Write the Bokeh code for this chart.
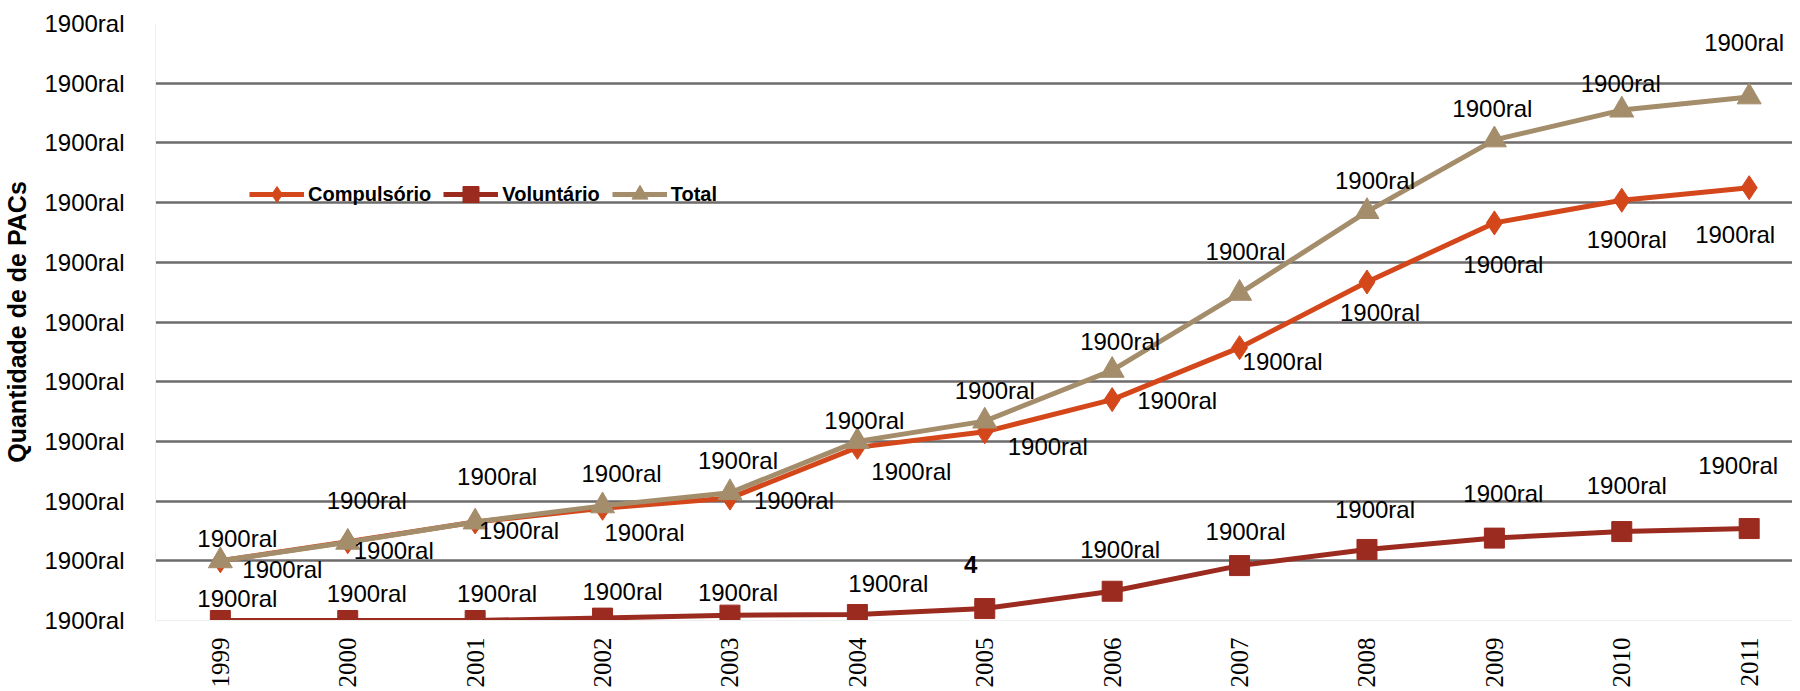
import math
from bokeh.plotting import figure
from bokeh.models import ColumnDataSource, LabelSet, FixedTicker, Legend, LegendItem, Range1d
from bokeh.core.properties import value
from bokeh.embed import file_html
from bokeh.resources import INLINE

# ---------------- data ----------------
years = ["1999", "2000", "2001", "2002", "2003", "2004", "2005",
         "2006", "2007", "2008", "2009", "2010", "2011"]
compulsorio = [1.00, 1.32, 1.65, 1.88, 2.05, 2.90, 3.16, 3.70, 4.57, 5.67, 6.66, 7.04, 7.25]
voluntario = [0.00, 0.00, 0.00, 0.04, 0.09, 0.10, 0.20, 0.49, 0.92, 1.19, 1.38, 1.49, 1.54]
total = [1.00, 1.31, 1.65, 1.92, 2.14, 3.00, 3.34, 4.19, 5.48, 6.85, 8.05, 8.55, 8.77]

series_names = ["Compulsório", "Voluntário", "Total"]
y_tick_values = [0, 1, 2, 3, 4, 5, 6, 7, 8, 9, 10]
y_tick_labels = ["1900ral"] * 11
y_axis_title = "Quantidade de de PACs"

comp_labels = ["1900ral"] * 13
vol_labels = ["1900ral"] * 6 + ["4"] + ["1900ral"] * 6
total_labels = ["1900ral"] * 13

# label offsets in screen pixels (dx right, dy up)
comp_dx = [62, 46, 44, 42, 64, 54, 63, 65, 43, 13, 9, 5, -14]
comp_dy = [-9, -9, -9, -24, -2, -24, -15, -1, -14, -30, -42, -39, -47]
vol_dx = [17, 19, 22, 20, 8, 31, -14, 8, 6, 8, 9, 5, -11]
vol_dy = [22, 27, 27, 27, 23, 31, 44, 42, 34, 40, 45, 46, 63]
tot_dx = [17, 19, 22, 19, 8, 7, 10, 8, 6, 8, -2, -1, -5]
tot_dy = [22, 42, 45, 32, 32, 21, 31, 29, 42, 31, 31, 27, 54]

COL_COMP = "#D4471B"
COL_VOL = "#9B2A1F"
COL_TOT = "#A48D6B"

x = list(range(len(years)))

p = figure(width=1792, height=690,
           x_range=Range1d(-0.509, 12.34), y_range=Range1d(0, 10),
           output_backend="svg", toolbar_location=None,
           min_border_left=153, min_border_right=0,
           min_border_top=23, min_border_bottom=70)
p.outline_line_color = None
p.background_fill_color = "white"

# axes
p.xaxis.ticker = FixedTicker(ticks=x)
p.xaxis.major_label_overrides = {i: y for i, y in enumerate(years)}
p.xaxis.major_label_orientation = math.pi / 2
p.xaxis.major_label_text_font = "Liberation Serif"
p.xaxis.major_label_text_font_size = "25px"
p.xaxis.major_label_text_color = "black"
p.xaxis.major_label_standoff = 11
p.xaxis.major_tick_line_color = None
p.xaxis.minor_tick_line_color = None
p.xaxis.axis_line_color = "#EEEEEE"

p.yaxis.ticker = FixedTicker(ticks=y_tick_values)
p.yaxis.major_label_overrides = {v: t for v, t in zip(y_tick_values, y_tick_labels)}
p.yaxis.major_label_text_font = "Liberation Sans"
p.yaxis.major_label_text_font_size = "24px"
p.yaxis.major_label_text_color = "black"
p.yaxis.major_label_standoff = 25
p.yaxis.major_tick_line_color = None
p.yaxis.minor_tick_line_color = None
p.yaxis.axis_line_color = "#EEEEEE"
p.yaxis.axis_label = y_axis_title
p.yaxis.axis_label_text_font = "Liberation Sans"
p.yaxis.axis_label_text_font_style = "bold"
p.yaxis.axis_label_text_font_size = "25px"
p.yaxis.axis_label_text_color = "black"
p.yaxis.axis_label_standoff = 10

p.xgrid.grid_line_color = None
p.ygrid.ticker = FixedTicker(ticks=y_tick_values[1:])
p.ygrid.grid_line_color = "#6E6B6B"
p.ygrid.grid_line_width = 2.5

src = ColumnDataSource(dict(x=x, comp=compulsorio, vol=voluntario, tot=total))

lc = p.line("x", "comp", source=src, line_color=COL_COMP, line_width=5)
mc = p.scatter("x", "comp", source=src, marker="diamond", size=24, color=COL_COMP)
lv = p.line("x", "vol", source=src, line_color=COL_VOL, line_width=5)
mv = p.scatter("x", "vol", source=src, marker="square", size=20, color=COL_VOL)
lt = p.line("x", "tot", source=src, line_color=COL_TOT, line_width=5)
mt = p.scatter("x", "tot", source=src, marker="triangle", size=24, color=COL_TOT)

def add_labels(vals, texts, dx, dy, styles=None):
    d = dict(x=x, y=vals, t=texts, dx=dx, dy=dy,
             st=styles if styles else ["normal"] * len(texts))
    s = ColumnDataSource(d)
    ls = LabelSet(x="x", y="y", text="t", x_offset="dx", y_offset="dy", source=s,
                  text_align="center", text_baseline="middle",
                  text_font=value("Liberation Sans"), text_font_size=value("24px"),
                  text_font_style="st", text_color="black")
    p.add_layout(ls)

add_labels(total, total_labels, tot_dx, tot_dy)
add_labels(compulsorio, comp_labels, comp_dx, comp_dy)
add_labels(voluntario, vol_labels, vol_dx, vol_dy,
           ["bold" if t == "4" else "normal" for t in vol_labels])

legend = Legend(items=[
    LegendItem(label=series_names[0], renderers=[lc, mc]),
    LegendItem(label=series_names[1], renderers=[lv, mv]),
    LegendItem(label=series_names[2], renderers=[lt, mt]),
], orientation="horizontal", location=(94, 406))
legend.padding = 0
legend.margin = 0
legend.spacing = 12
legend.label_standoff = 4
legend.glyph_width = 55
legend.glyph_height = 40
legend.label_text_font = "Liberation Sans"
legend.label_text_font_style = "bold"
legend.label_text_font_size = "20px"
legend.label_text_color = "black"
legend.border_line_color = None
legend.background_fill_alpha = 0
p.add_layout(legend, "center")

open("out.html", "w").write(file_html(p, INLINE))
